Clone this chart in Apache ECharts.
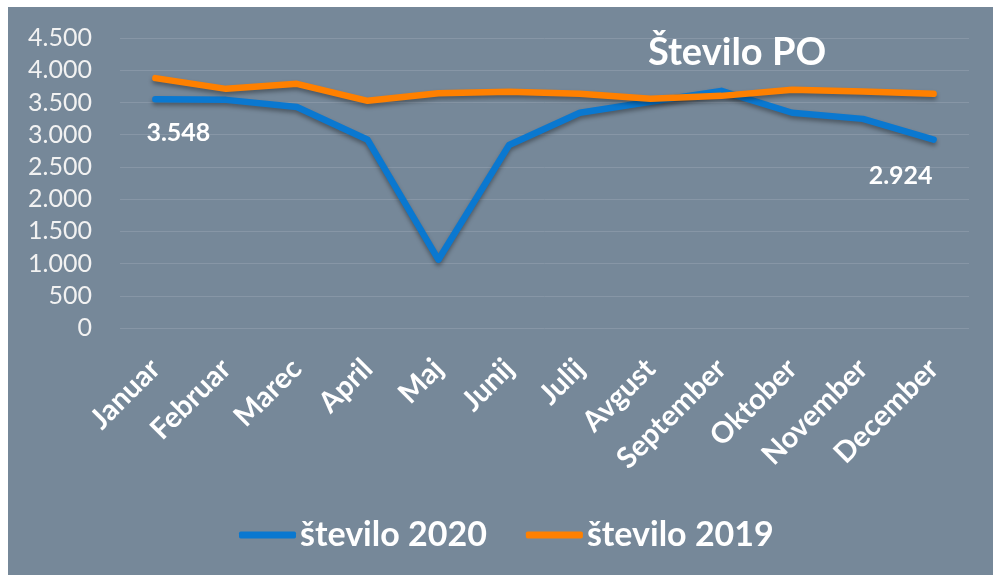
<!DOCTYPE html>
<html>
<head>
<meta charset="utf-8">
<script src="https://cdn.jsdelivr.net/npm/echarts@6/dist/echarts.min.js"></script>
<style>
  html, body { margin: 0; padding: 0; background: #fff; }
  #chart { position: absolute; left: 8px; top: 7px; width: 985px; height: 568px; background: #768899; }
</style>
</head>
<body>
<div id="chart"></div>
<script>
const months = ['Januar', 'Februar', 'Marec', 'April', 'Maj', 'Junij', 'Julij', 'Avgust', 'September', 'Oktober', 'November', 'December']
const stevilo2020 = [3548, 3540, 3430, 2920, 1060, 2840, 3340, 3510, 3680, 3340, 3245, 2924]
const stevilo2019 = [3877, 3711, 3789, 3525, 3644, 3665, 3634, 3556, 3602, 3696, 3670, 3634]
const yTicks = [0, 500, 1000, 1500, 2000, 2500, 3000, 3500, 4000, 4500]

const font = 'Lato, "Open Sans", sans-serif'
const fmt = v => String(v).replace(/\B(?=(\d{3})+(?!\d))/g, '.')

const chart = echarts.init(document.getElementById('chart'))

// labels only on the first and last point of 2020
const blueData = stevilo2020.map((v, i) => {
  if (i === 0) {
    return { value: v, label: { show: true, position: 'bottom', offset: [23, 16] } }
  }
  if (i === stevilo2020.length - 1) {
    return { value: v, label: { show: true, position: 'bottom', offset: [-33, 19] } }
  }
  return v
})

const lineShadow = {
  shadowColor: 'rgba(0, 0, 0, 0.35)',
  shadowBlur: 4,
  shadowOffsetY: 3
}

const option = {
  backgroundColor: '#768899',
  animation: false,
  title: {
    text: 'Število PO',
    left: 724,
    top: 22,
    textAlign: 'center',
    textStyle: { color: '#fff', fontSize: 38, fontWeight: 'bold', fontFamily: font }
  },
  grid: { left: 112, right: 24, top: 31, bottom: 247 },
  legend: {
    data: ['število 2020', 'število 2019'],
    left: 226,
    top: 506,
    itemWidth: 57,
    itemHeight: 7,
    itemGap: 39,
    icon: 'roundRect',
    textStyle: { color: '#fff', fontSize: 34, fontWeight: 'bold', fontFamily: font, padding: [0, 0, 0, -1] }
  },
  xAxis: {
    type: 'category',
    data: months,
    boundaryGap: true,
    axisLine: { show: false },
    axisTick: { show: false },
    axisLabel: {
      rotate: 45,
      margin: 36,
      interval: 0,
      color: '#fff',
      fontSize: 29,
      fontWeight: 'bold',
      fontFamily: font
    }
  },
  yAxis: {
    type: 'value',
    min: yTicks[0],
    max: yTicks[yTicks.length - 1],
    interval: yTicks[1] - yTicks[0],
    axisLine: { show: false },
    axisTick: { show: false },
    splitLine: { lineStyle: { color: '#8796a6', width: 1 } },
    axisLabel: {
      margin: 28,
      color: '#f2f2f2',
      fontSize: 25,
      fontFamily: font,
      formatter: fmt
    }
  },
  series: [
    {
      name: 'število 2020',
      type: 'line',
      data: blueData,
      symbol: 'circle',
      symbolSize: 0,
      color: '#0a78d0',
      lineStyle: Object.assign({ width: 6.5, color: '#0a78d0', cap: 'round', join: 'round' }, lineShadow),
      label: {
        show: false,
        color: '#fff',
        fontSize: 25,
        fontWeight: 'bold',
        fontFamily: font,
        formatter: p => fmt(p.value)
      },
      z: 2
    },
    {
      name: 'število 2019',
      type: 'line',
      data: stevilo2019,
      symbol: 'none',
      color: '#ff8000',
      lineStyle: Object.assign({ width: 6.5, color: '#ff8000', cap: 'round', join: 'round' }, lineShadow),
      z: 3
    }
  ]
}

chart.setOption(option)
</script>
</body>
</html>
